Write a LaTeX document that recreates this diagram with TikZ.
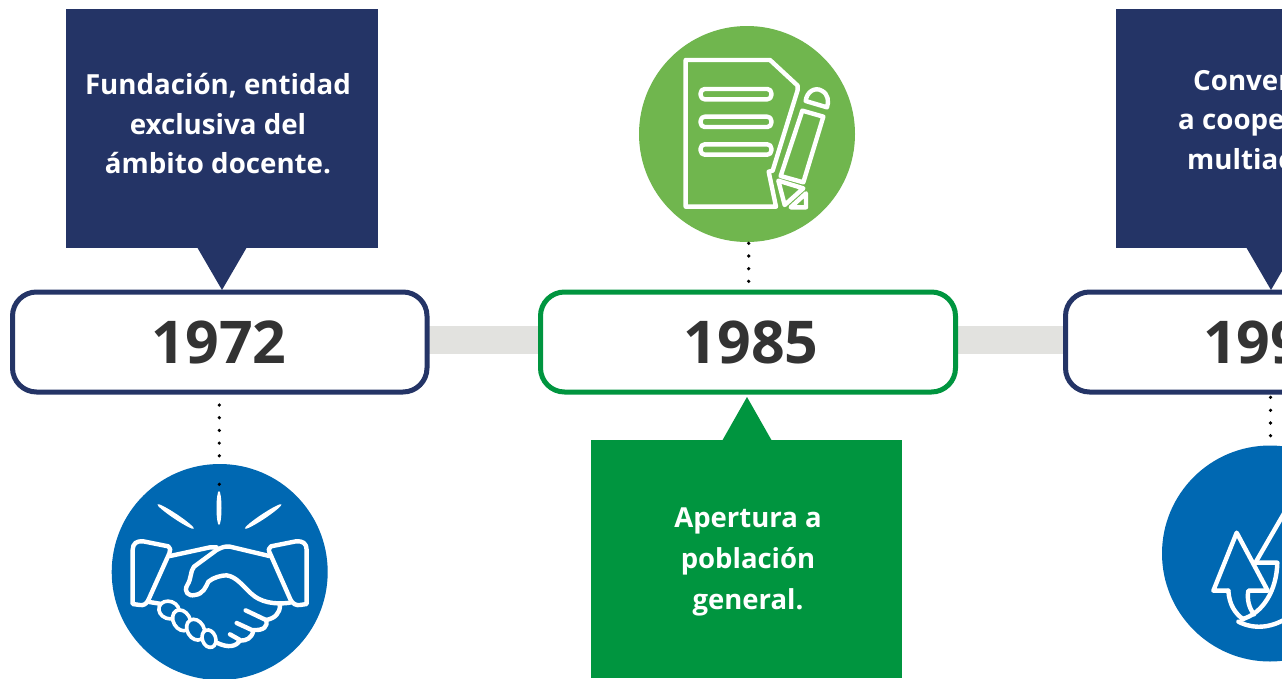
\documentclass[tikz,border=0pt]{standalone}
\usepackage{fontspec}
\setmainfont{Open Sans}
\definecolor{navy}{HTML}{243466}
\definecolor{dgreen}{HTML}{00953F}
\definecolor{lgreen}{HTML}{70B64E}
\definecolor{mblue}{HTML}{0068B2}
\definecolor{bar}{HTML}{E2E2DF}
\definecolor{ink}{HTML}{333333}
\tikzset{
  yearbox/.style={draw=#1,line width=5pt,rounded corners=24pt,fill=white},
  yeartxt/.style={font=\fontsize{59}{59}\selectfont\bfseries,text=ink,inner sep=0pt},
  msg/.style={font=\fontsize{27.7}{39.5}\selectfont\bfseries,text=white,align=center,inner sep=0pt},
  msgb/.style={font=\fontsize{27.5}{41}\selectfont\bfseries,text=white,align=center,inner sep=0pt},
  msgl/.style={font=\fontsize{27.7}{39}\selectfont\bfseries,text=white,inner sep=0pt,anchor=base west},
  ico/.style={draw=white,line width=4.4pt,line join=round,line cap=round},
  finger/.style={draw=white,line width=3.6pt,fill=mblue},
}
\begin{document}
\begin{tikzpicture}[x=1pt,y=-1pt]
\useasboundingbox (0,0) rectangle (1282,678);
\begin{scope}
\clip (0,0) rectangle (1282,678);
\fill[white] (0,0) rectangle (1282,678);
% bars
\fill[bar] (420,326) rectangle (550,354);
\fill[bar] (950,326) rectangle (1075,354);
% circles
\fill[mblue] (219.7,572) circle (108);
\fill[lgreen] (747,134) circle (108);
\fill[mblue] (1270,553.5) circle (108);
% message boxes
\fill[navy] (66,9) rectangle (378,248);
\fill[navy] (197,247) -- (247,247) -- (222,290) -- cycle;
\fill[dgreen] (591,440) rectangle (902,678);
\fill[dgreen] (722,441) -- (772,441) -- (747,397) -- cycle;
\fill[navy] (1116,9) rectangle (1290,248);
\fill[navy] (1246,247) -- (1296,247) -- (1271,290) -- cycle;
% year boxes
\draw[yearbox=navy] (12.5,292) rectangle (427,392);
\draw[yearbox=dgreen] (540.5,292) rectangle (955.5,392);
\draw[yearbox=navy] (1065.5,292) rectangle (1400,392);
\node[yeartxt] (y1) at (219,342) {1972};
\node[yeartxt] (y2) at (751,342) {1985};
\node[yeartxt,anchor=west] (y3) at (1203,342) {199};
% texts
\node[msg] (t1) at (218,124) {Fundación, entidad\\exclusiva del\\ámbito docente.};
\node[msgb] (t2) at (748,562) {Apertura a\\población\\general.};
\node[msgl] (t3a) at (1193,90.7) {Conver};
\node[msgl] (t3b) at (1178,129.7) {a coope};
\node[msgl] (t3c) at (1187,169) {multiac};
% dots
\foreach \y in {405,417.7,430.4,443.1,455.8,484.3} \fill[black] (219.3,\y) circle (1.8);
\foreach \y in {243.3,256,268.7,281.3} \fill[black] (748.7,\y) circle (1.8);
\foreach \y in {397.3,410.3,423,435.7} \fill[black] (1270.5,\y) circle (1.8);
% handshake
\begin{scope}[shift={(100,450)},scale=1/3]
\fill[white] (357,174) ellipse [x radius=7.5,y radius=51];
\fill[white,rotate around={-33.8:(227,199.5)}] (227,199.5) ellipse [x radius=66,y radius=7.5];
\fill[white,rotate around={33.6:(489.5,199.5)}] (489.5,199.5) ellipse [x radius=66,y radius=7.5];
% cuffs
\draw[ico] (98,462) -- (98,300) .. controls (98,280) and (110,272) .. (130,274) -- (205,289) .. controls (212,292) and (212,302) .. (208,310) -- (145,450) .. controls (140,462) and (130,467) .. (120,465) -- cycle;
\draw[ico] (620,462) -- (620,300) .. controls (620,280) and (608,272) .. (588,274) -- (513,289) .. controls (505,292) and (505,302) .. (510,310) -- (572,450) .. controls (578,462) and (590,467) .. (600,465) -- cycle;
% arms
\draw[ico] (210,318) -- (330,292) -- (350,292);
\draw[ico] (508,318) -- (390,290) .. controls (375,288) and (365,292) .. (350,300) -- (282,350) .. controls (270,365) and (275,385) .. (262,405) .. controls (250,425) and (265,440) .. (285,435) .. controls (310,432) and (318,410) .. (325,395) .. controls (340,382) and (365,376) .. (380,376) .. controls (410,380) and (430,410) .. (455,432) .. controls (480,455) and (520,465) .. (570,458);
\draw[ico] (540,465) .. controls (540,490) and (525,505) .. (498,510);
\draw[ico] (437,481) -- (498,510) .. controls (505,530) and (490,542) .. (460,540);
\draw[ico] (410,519) -- (460,542) .. controls (455,565) and (440,572) .. (420,572);
\draw[ico] (390,553) -- (420,570) .. controls (410,590) and (385,595) .. (350,578);
\draw[ico] (148,456) -- (185,462);
% fingers
\draw[finger,rotate around={-20:(207,480)}] (207,480) ellipse [x radius=31,y radius=26];
\draw[finger,rotate around={-60:(245,511)}] (245,511) ellipse [x radius=33,y radius=25];
\draw[finger,rotate around={-60:(287,539)}] (287,539) ellipse [x radius=33,y radius=25];
\draw[finger,rotate around={-70:(327,566)}] (327,566) ellipse [x radius=27,y radius=20];
\end{scope}
% document and pencil
\begin{scope}[shift={(630,20)},scale=1/3]
\draw[ico] (428,452) -- (503,210) -- (503,197) -- (420,120) -- (167,120) -- (167,560) -- (438,560) -- (416,455) -- cycle;
\draw[ico,rounded corners=4pt] (212,207) rectangle (424,238);
\draw[ico,rounded corners=4pt] (212,290) rectangle (424,321);
\draw[ico,rounded corners=4pt] (212,373) rectangle (424,404);
\draw[ico] (517,272) -- (580,290) -- (520,487) -- (452,468) -- cycle;
\draw[ico] (527,243) .. controls (530,215) and (555,200) .. (575,212) .. controls (595,222) and (597,245) .. (591,262) -- cycle;
\draw[ico] (445,482) -- (520,505) -- (464,555) -- cycle;
\draw[ico] (528,520) -- (528,562) -- (482,562) -- cycle;
\end{scope}
% third icon
\begin{scope}[shift={(1130,380)},scale=1/3]
\draw[ico] (295,632) -- (250,632) -- (320,458) -- (413,632) -- (355,632) .. controls (350,660) and (358,685) .. (372,703);
\draw[ico] (295,632) .. controls (298,675) and (315,700) .. (340,718);
\draw[ico] (378,545) -- (465,395);
\draw[ico] (378,548) -- (442,548) .. controls (440,630) and (400,700) .. (335,718);
\draw[ico] (325,725) .. controls (370,748) and (420,745) .. (470,715);
\end{scope}
\end{scope}
\end{tikzpicture}
\end{document}
